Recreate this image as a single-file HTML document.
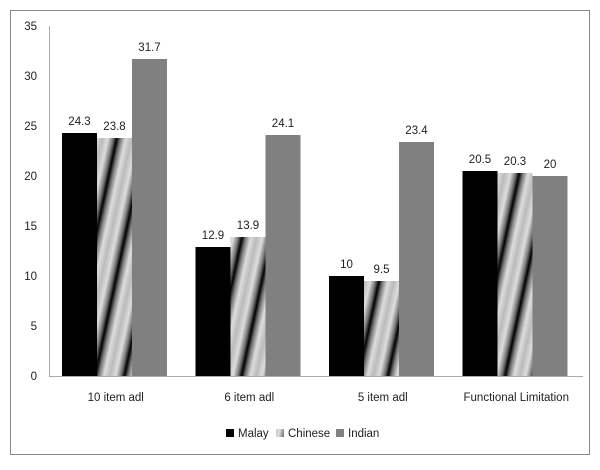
<!DOCTYPE html>
<html><head><meta charset="utf-8"><style>
body{margin:0;background:#fff;font-family:"Liberation Sans",sans-serif}
svg text{font-family:"Liberation Sans",sans-serif;font-size:11.5px;fill:#222}
</style></head><body>
<svg width="600" height="465">
<defs>
<linearGradient id="stripe" gradientUnits="userSpaceOnUse" x1="0" y1="0" x2="14" y2="3" spreadMethod="reflect">
<stop offset="0" stop-color="#000"/><stop offset="0.25" stop-color="#777"/><stop offset="0.6" stop-color="#ddd"/><stop offset="1" stop-color="#bbb"/>
</linearGradient>
</defs>
<rect x="10.5" y="10.5" width="579" height="444" fill="#fff" stroke="#888"/>
<g id="axes"></g><g id="bars"></g>
<g>
<rect x="226" y="429" width="8" height="8" fill="#000"/>
<text x="238" y="437">Malay</text>
<rect x="276" y="429" width="8" height="8" fill="url(#stripe)"/>
<text x="288" y="437">Chinese</text>
<rect x="336" y="429" width="8" height="8" fill="#808080"/>
<text x="348" y="437">Indian</text>
</g>
</svg>
<script>
const categories=["10 item adl","6 item adl","5 item adl","Functional Limitation"];
const malay=[24.3,12.9,10,20.5];
const chinese=[23.8,13.9,9.5,20.3];
const indian=[31.7,24.1,23.4,20];
const ticks=[0,5,10,15,20,25,30,35];
const NS="http://www.w3.org/2000/svg";
const x0=49,x1=583,y0=376,yTop=26,maxV=35;
const y=v=>y0-(v/maxV)*(y0-yTop);
const gw=(x1-x0)/categories.length;
const bw=35,off=13;
function mk(tag,attrs,parent,txt){const e=document.createElementNS(NS,tag);for(const k in attrs)e.setAttribute(k,attrs[k]);if(txt!==undefined)e.textContent=txt;parent.appendChild(e);return e;}
const ax=document.getElementById('axes'),bg=document.getElementById('bars');
let l=mk('line',{x1:x0+.5,y1:yTop,x2:x0+.5,y2:y0,stroke:'#aaa'},ax);


l=mk('line',{x1:x0,y1:y0+.5,x2:x1,y2:y0+.5,stroke:'#aaa'},ax);


ticks.forEach(t=>{const e=mk('text',{x:37,y:y(t)+4,'text-anchor':'end'},ax,t);

});
const series=[[malay,'#000','malay'],[chinese,'url(#stripe)','chinese'],[indian,'#808080','indian']];
categories.forEach((c,i)=>{
 const gx=x0+i*gw;
 const t=mk('text',{x:gx+gw/2,y:401,'text-anchor':'middle'},ax,c);
 
 
 series.forEach((s,j)=>{
  const v=s[0][i],bx=gx+off+j*bw;
  const r=mk('rect',{x:bx,y:y(v),width:bw,height:y0-y(v),fill:s[1]},bg);
  
  
  const lb=mk('text',{x:bx+bw/2,y:y(v)-8,'text-anchor':'middle'},bg,v);
  
  
 });
});
</script>
</body></html>
